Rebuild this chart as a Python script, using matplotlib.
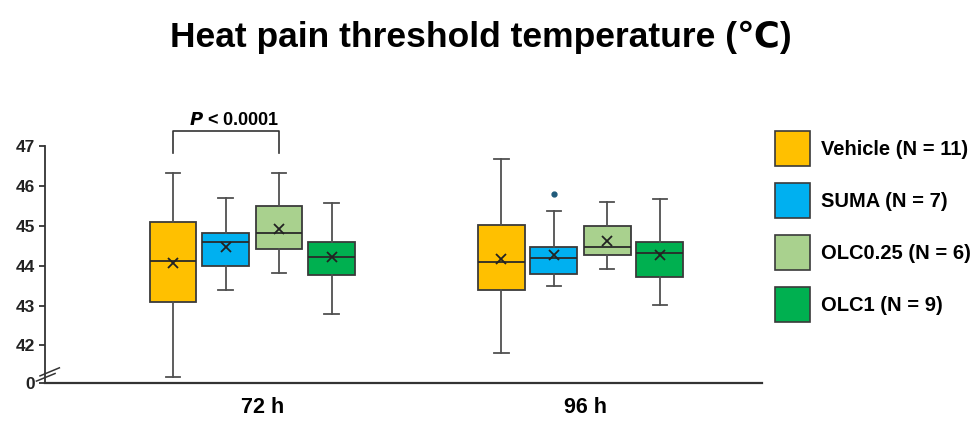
import matplotlib.pyplot as plt
from matplotlib.patches import Patch

plt.rcParams['font.family'] = ['Liberation Sans', 'DejaVu Sans']
plt.rcParams['font.weight'] = 'bold'

# data
times = ['72 h', '96 h']
groups = ['Vehicle (N = 11)', 'SUMA (N = 7)', 'OLC0.25 (N = 6)', 'OLC1 (N = 9)']
colors = ['#FFC000', '#00B0F0', '#A9D18E', '#00B050']

# per group: [72 h, 96 h]
whislo = [[41.21, 41.82], [43.40, 43.50], [43.81, 43.91], [42.80, 43.01]]
q1 = [[43.09, 43.40], [44.00, 43.79], [44.42, 44.27], [43.76, 43.71]]
med = [[44.12, 44.09], [44.60, 44.19], [44.81, 44.47], [44.22, 44.31]]
q3 = [[45.10, 45.02], [44.81, 44.47], [45.50, 44.99], [44.59, 44.59]]
whishi = [[46.32, 46.67], [45.70, 45.38], [46.32, 45.60], [45.58, 45.68]]
means = [[44.08, 44.16], [44.47, 44.26], [44.92, 44.61], [44.22, 44.26]]
fliers = [[[], []], [[], [45.79]], [[], []], [[], []]]

yticks = [41.06, 42, 43, 44, 45, 46, 47]
ytick_labels = ['0', '42', '43', '44', '45', '46', '47']

fig = plt.figure(figsize=(9.79, 4.21), dpi=100)
ax = fig.add_axes([0.046, 0.0903, 0.732, 0.5627])

offsets = [-0.242, -0.081, 0.081, 0.242]
for g in range(len(groups)):
    stats = []
    for t in range(len(times)):
        stats.append({'whislo': whislo[g][t], 'q1': q1[g][t], 'med': med[g][t],
                      'q3': q3[g][t], 'whishi': whishi[g][t], 'mean': means[g][t],
                      'fliers': fliers[g][t]})
    pos = [t + offsets[g] for t in range(len(times))]
    ax.bxp(stats, positions=pos, widths=0.143, capwidths=0.045, patch_artist=True,
           showmeans=True, manage_ticks=False,
           boxprops=dict(facecolor=colors[g], edgecolor='#3a3a3a', linewidth=1.3),
           medianprops=dict(color='#2a2a2a', linewidth=1.3),
           whiskerprops=dict(color='#505050', linewidth=1.3),
           capprops=dict(color='#505050', linewidth=1.3),
           meanprops=dict(marker='x', markeredgecolor='#222222', markersize=7.5,
                          markeredgewidth=1.3),
           flierprops=dict(marker='o', markerfacecolor='#1F5A7A', markeredgecolor='#1F5A7A',
                           markersize=3.5))

ax.set_xlim(-0.632, 1.552)
ax.set_ylim(41.06, 47)
ax.set_yticks(yticks)
ax.set_yticklabels(ytick_labels, fontsize=12.5, fontweight='bold')
ax.set_xticks([0.03, 1.015])
ax.set_xticklabels(times, fontsize=15.5, fontweight='bold')
ax.tick_params(axis='x', length=0, pad=10)
ax.tick_params(axis='y', length=4, width=1.2, pad=3, colors='#222222')
for s in ['top', 'right']:
    ax.spines[s].set_visible(False)
ax.spines['left'].set_color('#333333')
ax.spines['bottom'].set_color('#333333')
ax.spines['left'].set_linewidth(1.3)
ax.spines['bottom'].set_linewidth(1.6)

# axis break marks
ax.plot([-0.012, 0.014], [0.008, 0.040], transform=ax.transAxes, color='#333333',
        lw=1.1, clip_on=False)
ax.plot([-0.007, 0.020], [0.030, 0.064], transform=ax.transAxes, color='#333333',
        lw=1.1, clip_on=False)

# significance bracket
x1 = 0 + offsets[0]
x2 = 0 + offsets[2]
ax.plot([x1, x1, x2, x2], [46.83, 47.38, 47.38, 46.83], color='#333333', lw=1.2,
        clip_on=False)
ax.text((x1 + x2) / 2 + 0.025, 47.43, r'$\bfit{P}$ < 0.0001', ha='center', va='bottom',
        fontsize=13, fontweight='bold')

fig.text(0.491, 0.912, 'Heat pain threshold temperature (℃)', ha='center', va='center',
         fontsize=25.5, fontweight='bold')

handles = [Patch(facecolor=c, edgecolor='#3a3a3a', linewidth=1.2) for c in colors]
fig.legend(handles, groups, loc='upper left', bbox_to_anchor=(775 / 979, 1 - 131 / 421),
           frameon=False, handlelength=1.72, handleheight=2.30,
           labelspacing=0.84, handletextpad=0.55, borderpad=0, borderaxespad=0,
           prop={'weight': 'bold', 'size': 14.5})

fig.savefig('out.png', dpi=100)
